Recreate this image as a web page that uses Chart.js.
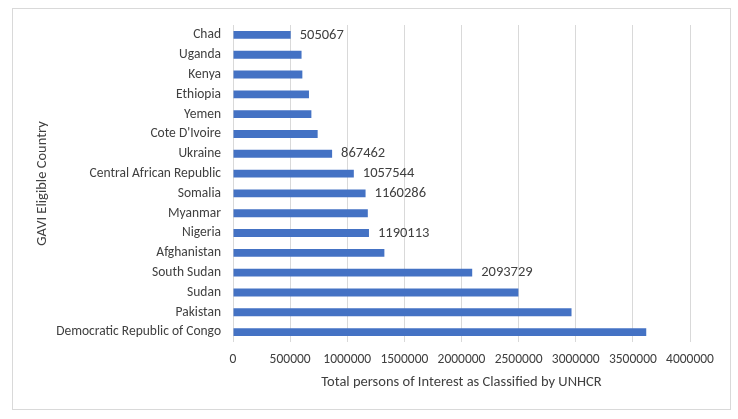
<!DOCTYPE html>
<html>
<head>
<meta charset="utf-8">
<script src="https://cdn.jsdelivr.net/npm/chart.js@4.4.1/dist/chart.umd.min.js"></script>
<style>
  html, body { margin: 0; padding: 0; background: #fff; }
  #wrap { width: 738px; height: 419px; position: relative; }
</style>
</head>
<body>
<div id="wrap"><canvas id="gaviChart" width="738" height="419"></canvas></div>
<script>
// categories, top to bottom as in the picture
const countries = [
  'Chad', 'Uganda', 'Kenya', 'Ethiopia', 'Yemen', "Cote D'Ivoire", 'Ukraine',
  'Central African Republic', 'Somalia', 'Myanmar', 'Nigeria', 'Afghanistan',
  'South Sudan', 'Sudan', 'Pakistan', 'Democratic Republic of Congo'
];
const personsOfInterest = [
  505067, 600000, 607000, 665000, 686000, 741000, 867462,
  1057544, 1160286, 1180000, 1190113, 1325000,
  2093729, 2498000, 2963000, 3617000
];
// only these bars carry a value label
const labelledCountries = ['Chad', 'Ukraine', 'Central African Republic', 'Somalia', 'Nigeria', 'South Sudan'];
const xTicks = [0, 500000, 1000000, 1500000, 2000000, 2500000, 3000000, 3500000, 4000000];

const FONT = "Carlito, Lato, 'Liberation Sans', sans-serif";
const TEXT = '#404040';

// frame round the whole chart
const framePlugin = {
  id: 'frame',
  beforeDraw(chart) {
    const ctx = chart.ctx;
    ctx.save();
    ctx.fillStyle = '#fff';
    ctx.fillRect(0, 0, chart.width, chart.height);
    ctx.strokeStyle = '#d9d9d9';
    ctx.lineWidth = 1;
    ctx.strokeRect(12.5, 8.5, 718, 401);
    ctx.restore();
  }
};

// value labels at the end of some bars
const valueLabels = {
  id: 'valueLabels',
  afterDatasetsDraw(chart) {
    const ctx = chart.ctx;
    const meta = chart.getDatasetMeta(0);
    ctx.save();
    ctx.font = '14.5px ' + FONT;
    ctx.fillStyle = TEXT;
    ctx.textBaseline = 'middle';
    ctx.textAlign = 'left';
    meta.data.forEach((bar, i) => {
      if (!labelledCountries.includes(countries[i])) return;
      ctx.fillText(String(personsOfInterest[i]), bar.x + 9, bar.y);
    });
    ctx.restore();
  }
};

const ctx = document.getElementById('gaviChart').getContext('2d');
new Chart(ctx, {
  type: 'bar',
  data: {
    labels: countries,
    datasets: [{
      data: personsOfInterest,
      backgroundColor: '#4472C4',
      borderWidth: 0,
      barPercentage: 0.8,
      categoryPercentage: 0.5
    }]
  },
  options: {
    indexAxis: 'y',
    responsive: false,
    animation: false,
    layout: { padding: { left: 34, top: 25, right: 48, bottom: 0 } },
    plugins: {
      legend: { display: false },
      tooltip: { enabled: false }
    },
    scales: {
      x: {
        min: 0,
        max: 4000000,
        afterBuildTicks(scale) {
          scale.ticks = xTicks.map(v => ({ value: v }));
        },
        // fixed height so the plot ends where the reference does
        afterFit(scale) { scale.height = 77; },
        grid: { color: '#d9d9d9', drawTicks: false },
        border: { display: false },
        ticks: {
          color: TEXT,
          font: { family: FONT, size: 13.5 },
          padding: 10,
          maxRotation: 0,
          callback: v => String(v)
        },
        title: {
          display: true,
          text: 'Total persons of Interest as Classified by UNHCR',
          color: TEXT,
          font: { family: FONT, size: 14.5 },
          padding: { top: 0, bottom: 28 }
        }
      },
      y: {
        afterFit(scale) { scale.width = 199; },
        grid: { display: false, drawTicks: false },
        border: { display: false },
        ticks: {
          color: TEXT,
          font: { family: FONT, size: 13.5 },
          padding: 12,
          autoSkip: false
        },
        title: {
          display: true,
          text: 'GAVI Eligible Country',
          color: TEXT,
          font: { family: FONT, size: 14.5 },
          padding: { top: 0, bottom: 0 }
        }
      }
    }
  },
  plugins: [framePlugin, valueLabels]
});
</script>
</body>
</html>
